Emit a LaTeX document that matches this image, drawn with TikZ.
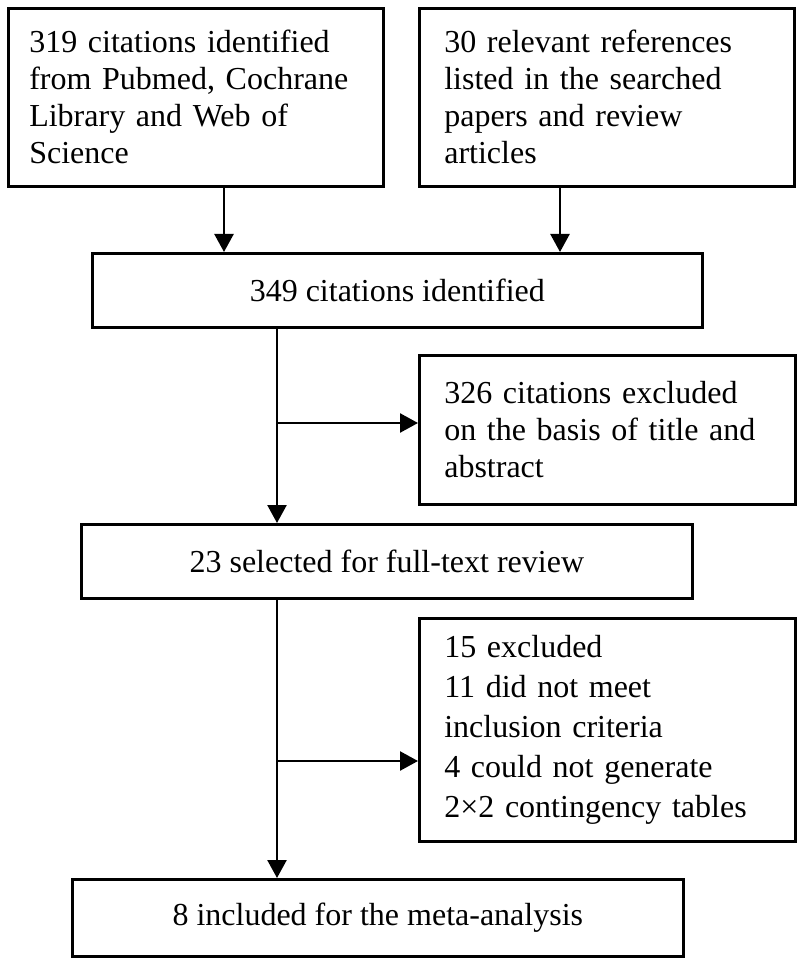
\documentclass[tikz,border=0pt]{standalone}
\usepackage{fontspec}
\setmainfont{Liberation Serif}
\usepackage{tikz}
\usetikzlibrary{arrows.meta,positioning}

\begin{document}
\begin{tikzpicture}[
    x=0.5pt,
    y=-0.5pt,
    >={Triangle[width=9.5pt,length=9pt]},
    font=\fontsize{16}{18.5}\selectfont,
    line width=1.2pt,
    stage/.style={
		rectangle,
		draw=black,
		line width=1.3pt,
		anchor=north west,
		inner xsep=0pt,
		inner ysep=0pt,
		text centered
	},
	note/.style={
		stage,
		inner xsep=12.5pt,
		text width=163pt,
		minimum width=188pt,
		align=left
	}
  ]
  \useasboundingbox (0,0) rectangle (800,962);
    % We start by placing the blocks

  \node [note, inner xsep=10.5pt, text width=166.5pt, minimum width=187.5pt, minimum height=89pt] (search) at (7,7)
 {319 citations identified\\
  from Pubmed, Cochrane\\
  Library and Web of\\
  Science};

  \node [note, minimum width=187.5pt, text width=162.5pt, minimum height=89pt] (refs) at (418,7)
 {30 relevant references\\
  listed in the searched\\
  papers and review\\
  articles};

  \node [stage, minimum width=305pt, minimum height=37pt] (found) at (91,252)
 {349 citations identified};

  \node [note, minimum height=74.5pt] (excl1) at (418,354)
 {326 citations excluded\\
  on the basis of title and\\
  abstract};

  \node [stage, minimum width=305.5pt, minimum height=37pt] (full) at (80,523)
 {23 selected for full-text review};

  \node [note, minimum height=111.5pt, font=\fontsize{16}{20}\selectfont] (excl2) at (418,617)
 {15 excluded\\
  11 did not meet\\
  inclusion criteria\\
  4 could not generate\\
  2×2 contingency tables};

  \node [stage, minimum width=305.5pt, minimum height=38.5pt] (final) at (71,878)
 {8 included for the meta-analysis};

  % arrows
  \coordinate (k1) at (224,0);
  \coordinate (k2) at (560,0);
  \coordinate (k3) at (277,0);
  \coordinate (j1) at (0,423);
  \coordinate (j2) at (0,761);

 \draw [->] (search.south -| k1) -- (found.north -| k1);
 \draw [->] (refs.south -| k2) -- (found.north -| k2);
 \draw [->] (found.south -| k3) -- (full.north -| k3);
 \draw [->] (k3 |- j1) -- (excl1.west |- j1);
 \draw [->] (full.south -| k3) -- (final.north -| k3);
 \draw [->] (k3 |- j2) -- (excl2.west |- j2);

\end{tikzpicture}
\end{document}
